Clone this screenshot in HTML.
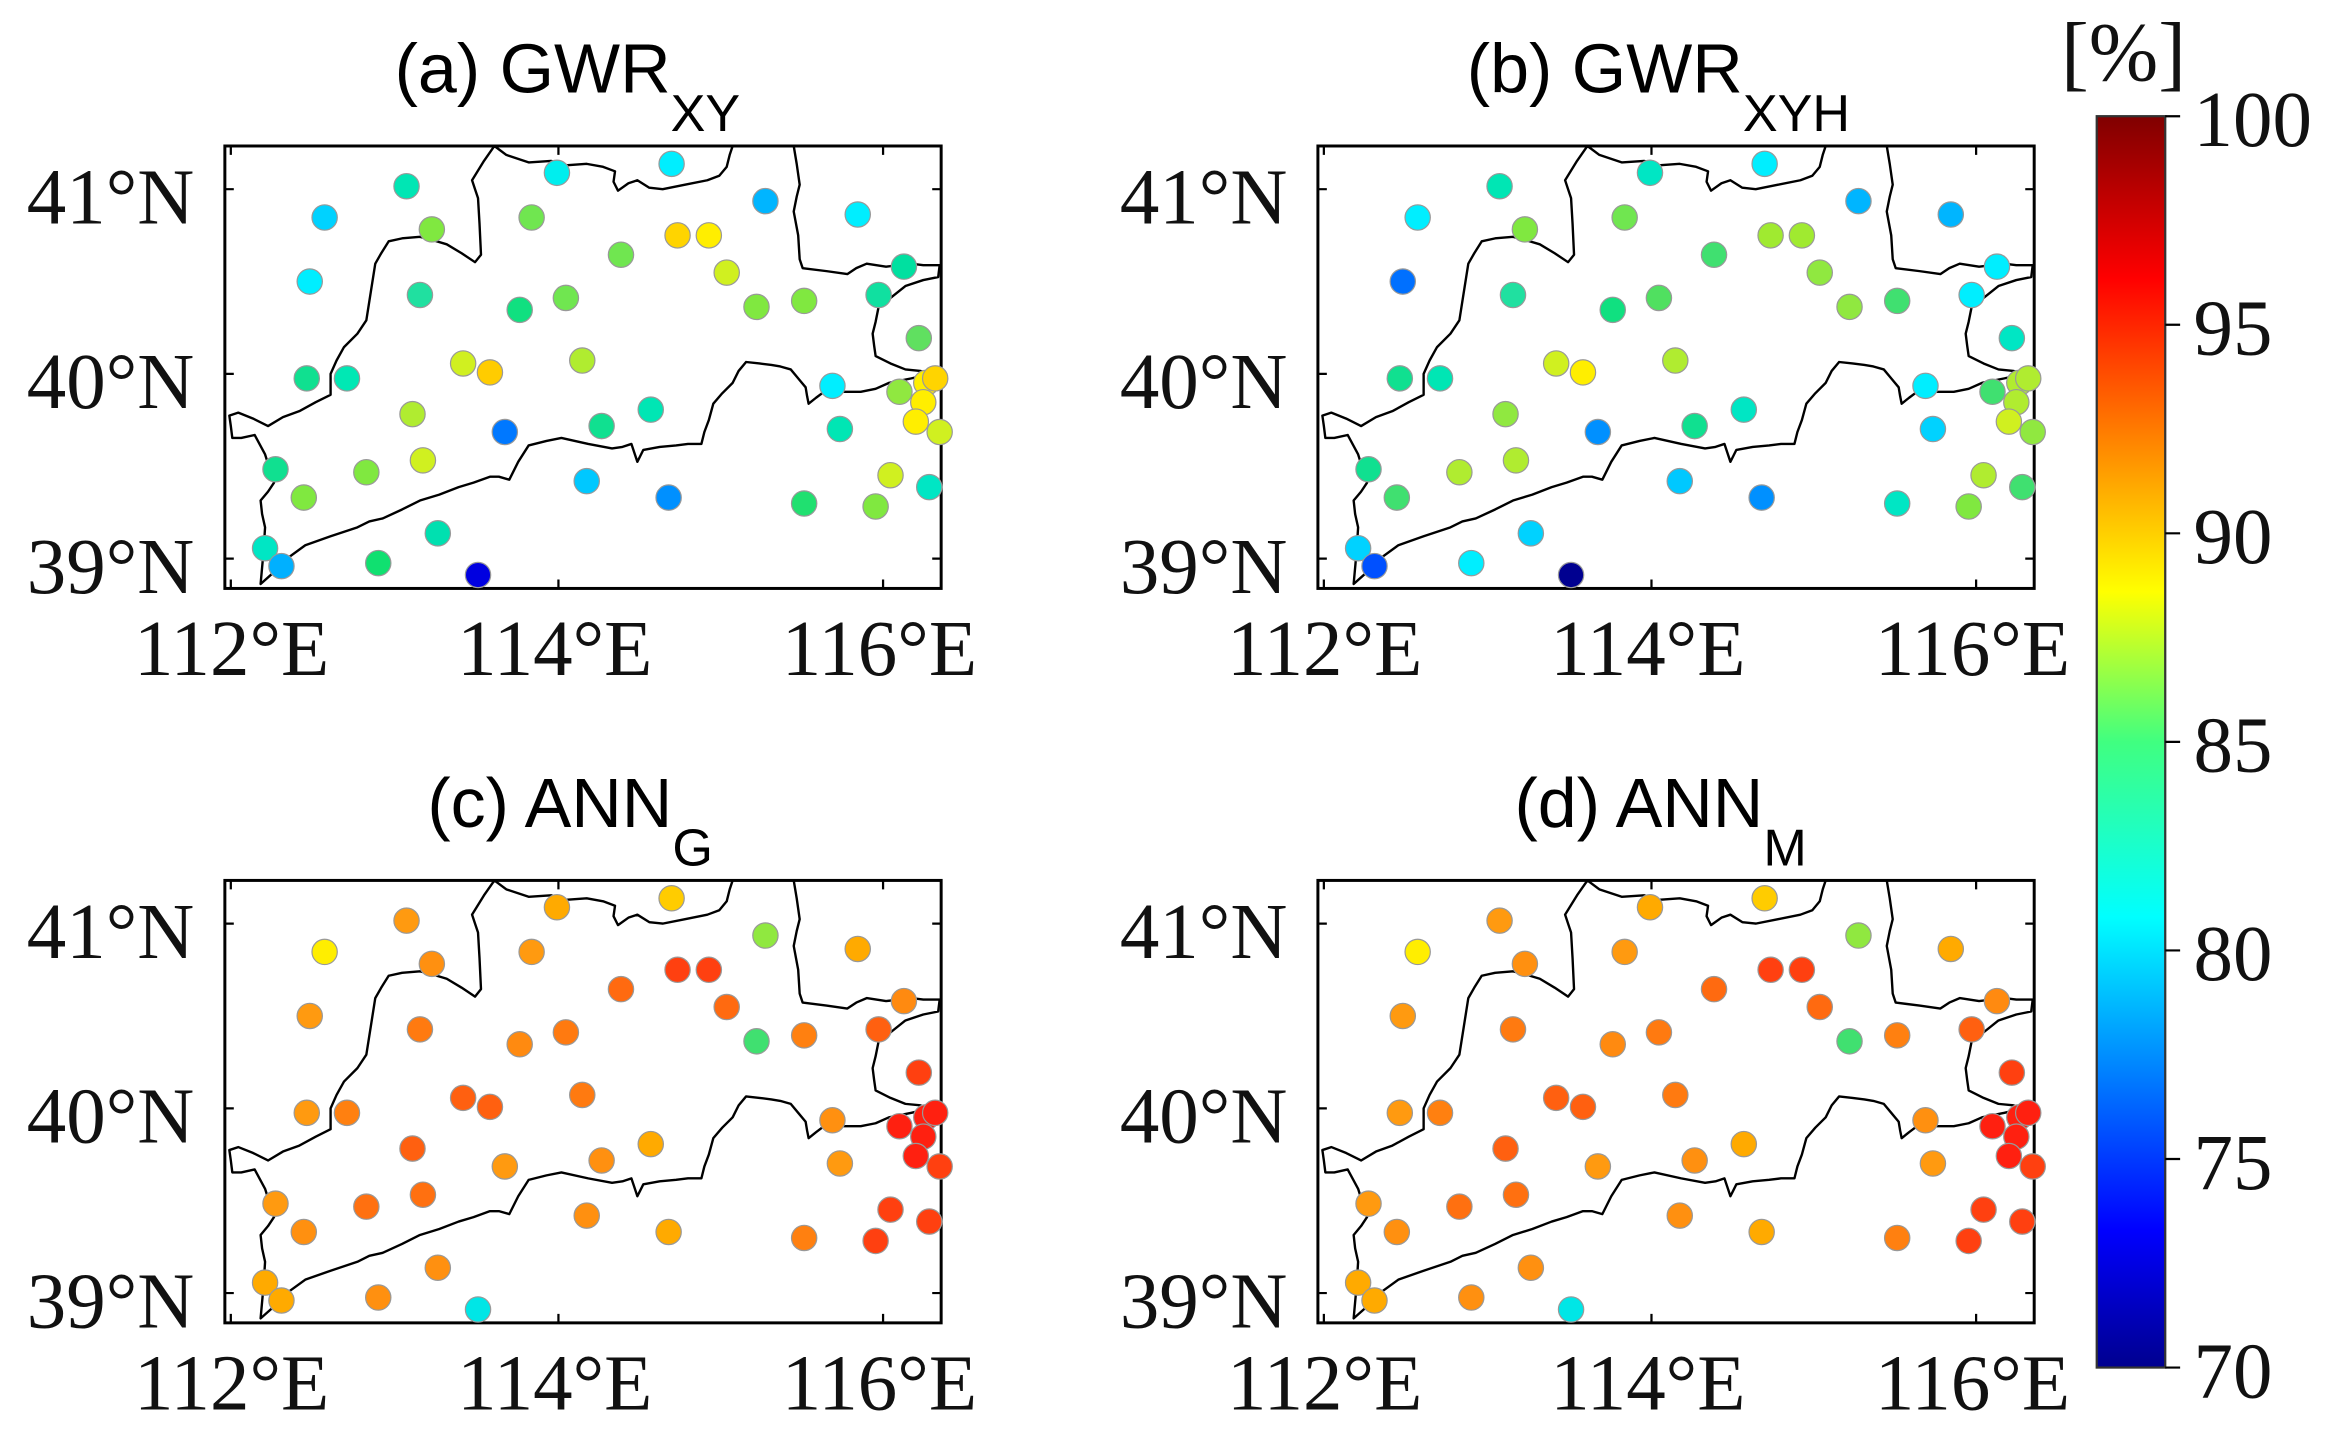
<!DOCTYPE html>
<html><head><meta charset="utf-8"><style>html,body{margin:0;padding:0;background:#fff}svg{display:block}</style></head><body>
<svg width="2335" height="1448" viewBox="0 0 1568 972" preserveAspectRatio="none" xmlns="http://www.w3.org/2000/svg">
<defs>
<linearGradient id="jet" x1="0" y1="1" x2="0" y2="0">
<stop offset="0" stop-color="#00008f"/><stop offset="0.11" stop-color="#0000ff"/><stop offset="0.36" stop-color="#00ffff"/><stop offset="0.5" stop-color="#40ff80"/><stop offset="0.62" stop-color="#ffff00"/><stop offset="0.87" stop-color="#ff0000"/><stop offset="1" stop-color="#800000"/>
</linearGradient>
<g id="frame">
<rect x="151" y="98" width="481" height="297" fill="none" stroke="#000" stroke-width="2"/>
<path d="M155 395v-6M375 395v-6M593 395v-6M155 98v6M375 98v6M593 98v6M151 127h6M151 251h6M151 375h6M632 127h-6M632 251h-6M632 375h-6" stroke="#000" stroke-width="1.5"/>
<polygon fill="none" stroke="#000" stroke-width="1.6" stroke-linejoin="round" points="332,98 340,104 355,109 370,108 380,111 394,110 405,112 413,115 412,122 415,128 422,123 428,121 436,126 445,127 460,124 475,121 483,118 488,112 490,104 492,98 533,98 535,110 537,124 535,132 533,142 536,158 537,174 539,180 555,182 569,184 575,180 582,177 595,179 612,177 620,178 631,178 630,186 620,188 608,192 598,200 590,206 588,216 586,224 587,232 588,239 598,244 608,248 618,249 625,251 612,254 597,257 588,261 578,263 565,263 552,264 548,267 543,271 542,266 541,260 536,254 531,248 524,246 518,245 510,244 501,243 496,249 492,257 485,264 479,271 476,282 473,290 471,298 462,298 454,299 443,300 432,302 430,306 428,310 426,304 424,298 418,300 411,301 395,298 377,294 367,296 355,299 348,310 342,322 335,320 329,320 318,324 308,327 295,332 282,336 270,342 257,348 248,350 240,354 222,360 205,366 194,374 184,384 175,392 177,370 178,354 176,345 175,336 180,330 184,324 178,305 171,292 162,294 156,294 155,286 154,279 160,277 170,281 180,286 190,280 201,276 212,270 222,265 222,258 222,251 226,242 231,233 240,224 246,215 249,196 252,177 256,170 261,162 270,160 282,159 290,161 300,164 310,170 319,176 323,171 322,150 321,133 319,127 317,121 325,108"/>
</g>
</defs>
<style>
.t{font-family:"Liberation Serif",serif;font-size:53px;fill:#111}
.h{font-family:"Liberation Sans",sans-serif;font-size:47px;fill:#000}
.s{font-size:35px}
circle{stroke:#999;stroke-width:0.8}
</style>

<use href="#frame"/>
<use href="#frame" transform="translate(734,0)"/>
<use href="#frame" transform="translate(0,493)"/>
<use href="#frame" transform="translate(734,493)"/>

<g class="t">
<text x="18" y="150">41°N</text><text x="18" y="274">40°N</text><text x="18" y="398">39°N</text>
<text x="90" y="453">112°E</text><text x="307" y="453">114°E</text><text x="525" y="453">116°E</text>
<text x="752" y="150">41°N</text><text x="752" y="274">40°N</text><text x="752" y="398">39°N</text>
<text x="824" y="453">112°E</text><text x="1041" y="453">114°E</text><text x="1259" y="453">116°E</text>
<text x="18" y="643">41°N</text><text x="18" y="767">40°N</text><text x="18" y="891">39°N</text>
<text x="90" y="946">112°E</text><text x="307" y="946">114°E</text><text x="525" y="946">116°E</text>
<text x="752" y="643">41°N</text><text x="752" y="767">40°N</text><text x="752" y="891">39°N</text>
<text x="824" y="946">112°E</text><text x="1041" y="946">114°E</text><text x="1259" y="946">116°E</text>
</g>

<g class="h">
<text x="265" y="62">(a) GWR<tspan class="s" dy="26">XY</tspan></text>
<text x="985" y="62">(b) GWR<tspan class="s" dy="26">XYH</tspan></text>
<text x="287" y="555">(c) ANN<tspan class="s" dy="26">G</tspan></text>
<text x="1017" y="555">(d) ANN<tspan class="s" dy="26">M</tspan></text>
</g>

<g>
<circle cx="218" cy="146" r="8.5" fill="#00d2ff"/><circle cx="273" cy="125" r="8.5" fill="#00e6b4"/><circle cx="208" cy="189" r="8.5" fill="#00eeff"/><circle cx="290" cy="154" r="8.5" fill="#80e840"/><circle cx="357" cy="146" r="8.5" fill="#70e650"/><circle cx="374" cy="116" r="8.5" fill="#00eeee"/><circle cx="451" cy="110" r="8.5" fill="#00eeff"/><circle cx="514" cy="135" r="8.5" fill="#00b5ff"/><circle cx="576" cy="144" r="8.5" fill="#00eeff"/><circle cx="455" cy="158" r="8.5" fill="#ffd400"/><circle cx="476" cy="158" r="8.5" fill="#ffee00"/><circle cx="417" cy="171" r="8.5" fill="#70e650"/><circle cx="282" cy="198" r="8.5" fill="#20e0a0"/><circle cx="349" cy="208" r="8.5" fill="#10e080"/><circle cx="380" cy="200" r="8.5" fill="#70e650"/><circle cx="488" cy="183" r="8.5" fill="#d0f020"/><circle cx="508" cy="206" r="8.5" fill="#80e840"/><circle cx="540" cy="202" r="8.5" fill="#80e840"/><circle cx="607" cy="179" r="8.5" fill="#00e0a0"/><circle cx="590" cy="198" r="8.5" fill="#10e0a0"/><circle cx="617" cy="227" r="8.5" fill="#60e060"/><circle cx="206" cy="254" r="8.5" fill="#10e090"/><circle cx="233" cy="254" r="8.5" fill="#00e8b4"/><circle cx="311" cy="244" r="8.5" fill="#d0f020"/><circle cx="329" cy="250" r="8.5" fill="#ffcc00"/><circle cx="391" cy="242" r="8.5" fill="#b0ec30"/><circle cx="559" cy="259" r="8.5" fill="#00eeff"/><circle cx="604" cy="263" r="8.5" fill="#90e840"/><circle cx="622" cy="257" r="8.5" fill="#ffee00"/><circle cx="628" cy="254" r="8.5" fill="#ffd400"/><circle cx="620" cy="270" r="8.5" fill="#ffee00"/><circle cx="615" cy="283" r="8.5" fill="#ffee00"/><circle cx="631" cy="290" r="8.5" fill="#d0f020"/><circle cx="277" cy="278" r="8.5" fill="#b0ec30"/><circle cx="339" cy="290" r="8.5" fill="#0078ff"/><circle cx="404" cy="286" r="8.5" fill="#10e090"/><circle cx="437" cy="275" r="8.5" fill="#00e6b4"/><circle cx="564" cy="288" r="8.5" fill="#00e6b4"/><circle cx="185" cy="315" r="8.5" fill="#10e090"/><circle cx="246" cy="317" r="8.5" fill="#80e840"/><circle cx="284" cy="309" r="8.5" fill="#d0f020"/><circle cx="204" cy="334" r="8.5" fill="#80e840"/><circle cx="394" cy="323" r="8.5" fill="#00c8ff"/><circle cx="449" cy="334" r="8.5" fill="#0090ff"/><circle cx="540" cy="338" r="8.5" fill="#20e070"/><circle cx="588" cy="340" r="8.5" fill="#80e840"/><circle cx="598" cy="319" r="8.5" fill="#d0f020"/><circle cx="624" cy="327" r="8.5" fill="#00e6c4"/><circle cx="178" cy="368" r="8.5" fill="#00e6c4"/><circle cx="189" cy="380" r="8.5" fill="#00b0ff"/><circle cx="254" cy="378" r="8.5" fill="#10e070"/><circle cx="294" cy="358" r="8.5" fill="#00e0b0"/><circle cx="321" cy="386" r="8.5" fill="#0000e0"/>
</g>
<g transform="translate(734,0)">
<circle cx="218" cy="146" r="8.5" fill="#00eeff"/><circle cx="273" cy="125" r="8.5" fill="#00e6b4"/><circle cx="208" cy="189" r="8.5" fill="#0070ff"/><circle cx="290" cy="154" r="8.5" fill="#80e840"/><circle cx="357" cy="146" r="8.5" fill="#70e650"/><circle cx="374" cy="116" r="8.5" fill="#00e6c4"/><circle cx="451" cy="110" r="8.5" fill="#00eeff"/><circle cx="514" cy="135" r="8.5" fill="#00b5ff"/><circle cx="576" cy="144" r="8.5" fill="#00b5ff"/><circle cx="455" cy="158" r="8.5" fill="#a0ea30"/><circle cx="476" cy="158" r="8.5" fill="#a0ea30"/><circle cx="417" cy="171" r="8.5" fill="#40e070"/><circle cx="282" cy="198" r="8.5" fill="#20e0a0"/><circle cx="349" cy="208" r="8.5" fill="#10e080"/><circle cx="380" cy="200" r="8.5" fill="#50e060"/><circle cx="488" cy="183" r="8.5" fill="#90e840"/><circle cx="508" cy="206" r="8.5" fill="#90e840"/><circle cx="540" cy="202" r="8.5" fill="#40e070"/><circle cx="607" cy="179" r="8.5" fill="#00eeff"/><circle cx="590" cy="198" r="8.5" fill="#00eeff"/><circle cx="617" cy="227" r="8.5" fill="#00e6c4"/><circle cx="206" cy="254" r="8.5" fill="#10e090"/><circle cx="233" cy="254" r="8.5" fill="#00e6b4"/><circle cx="311" cy="244" r="8.5" fill="#d0f020"/><circle cx="329" cy="250" r="8.5" fill="#ffee00"/><circle cx="391" cy="242" r="8.5" fill="#b0ec30"/><circle cx="559" cy="259" r="8.5" fill="#00eeff"/><circle cx="604" cy="263" r="8.5" fill="#40e070"/><circle cx="622" cy="257" r="8.5" fill="#b0ec30"/><circle cx="628" cy="254" r="8.5" fill="#b0ec30"/><circle cx="620" cy="270" r="8.5" fill="#b0ec30"/><circle cx="615" cy="283" r="8.5" fill="#d0f020"/><circle cx="631" cy="290" r="8.5" fill="#90e840"/><circle cx="277" cy="278" r="8.5" fill="#90e840"/><circle cx="339" cy="290" r="8.5" fill="#0090ff"/><circle cx="404" cy="286" r="8.5" fill="#10e090"/><circle cx="437" cy="275" r="8.5" fill="#00e6c4"/><circle cx="564" cy="288" r="8.5" fill="#00d2ff"/><circle cx="185" cy="315" r="8.5" fill="#10e090"/><circle cx="246" cy="317" r="8.5" fill="#b0ec30"/><circle cx="284" cy="309" r="8.5" fill="#b0ec30"/><circle cx="204" cy="334" r="8.5" fill="#40e070"/><circle cx="394" cy="323" r="8.5" fill="#00c8ff"/><circle cx="449" cy="334" r="8.5" fill="#0090ff"/><circle cx="540" cy="338" r="8.5" fill="#00e6c4"/><circle cx="588" cy="340" r="8.5" fill="#80e840"/><circle cx="598" cy="319" r="8.5" fill="#b0ec30"/><circle cx="624" cy="327" r="8.5" fill="#40e070"/><circle cx="178" cy="368" r="8.5" fill="#00d2ff"/><circle cx="189" cy="380" r="8.5" fill="#0050ff"/><circle cx="254" cy="378" r="8.5" fill="#00eeff"/><circle cx="294" cy="358" r="8.5" fill="#00d2ff"/><circle cx="321" cy="386" r="8.5" fill="#000090"/>
</g>
<g id="pc" transform="translate(0,493)">
<circle cx="218" cy="146" r="8.5" fill="#ffee00"/><circle cx="273" cy="125" r="8.5" fill="#ff9a10"/><circle cx="208" cy="189" r="8.5" fill="#ff9a10"/><circle cx="290" cy="154" r="8.5" fill="#ff9010"/><circle cx="357" cy="146" r="8.5" fill="#ff9a10"/><circle cx="374" cy="116" r="8.5" fill="#ffaa00"/><circle cx="451" cy="110" r="8.5" fill="#ffcc00"/><circle cx="514" cy="135" r="8.5" fill="#90e840"/><circle cx="576" cy="144" r="8.5" fill="#ffaa00"/><circle cx="455" cy="158" r="8.5" fill="#ff4010"/><circle cx="476" cy="158" r="8.5" fill="#ff4010"/><circle cx="417" cy="171" r="8.5" fill="#ff6a10"/><circle cx="282" cy="198" r="8.5" fill="#ff7a10"/><circle cx="349" cy="208" r="8.5" fill="#ff8a10"/><circle cx="380" cy="200" r="8.5" fill="#ff7a10"/><circle cx="488" cy="183" r="8.5" fill="#ff6a10"/><circle cx="508" cy="206" r="8.5" fill="#40e070"/><circle cx="540" cy="202" r="8.5" fill="#ff8010"/><circle cx="607" cy="179" r="8.5" fill="#ff8a10"/><circle cx="590" cy="198" r="8.5" fill="#ff6010"/><circle cx="617" cy="227" r="8.5" fill="#ff4010"/><circle cx="206" cy="254" r="8.5" fill="#ff9a10"/><circle cx="233" cy="254" r="8.5" fill="#ff8010"/><circle cx="311" cy="244" r="8.5" fill="#ff6010"/><circle cx="329" cy="250" r="8.5" fill="#ff6010"/><circle cx="391" cy="242" r="8.5" fill="#ff7a10"/><circle cx="559" cy="259" r="8.5" fill="#ff9010"/><circle cx="604" cy="263" r="8.5" fill="#ff2010"/><circle cx="622" cy="257" r="8.5" fill="#ff2010"/><circle cx="628" cy="254" r="8.5" fill="#ff2010"/><circle cx="620" cy="270" r="8.5" fill="#ff2010"/><circle cx="615" cy="283" r="8.5" fill="#ff2010"/><circle cx="631" cy="290" r="8.5" fill="#ff4010"/><circle cx="277" cy="278" r="8.5" fill="#ff6010"/><circle cx="339" cy="290" r="8.5" fill="#ff9a10"/><circle cx="404" cy="286" r="8.5" fill="#ff9010"/><circle cx="437" cy="275" r="8.5" fill="#ffaa00"/><circle cx="564" cy="288" r="8.5" fill="#ff9a10"/><circle cx="185" cy="315" r="8.5" fill="#ff9a10"/><circle cx="246" cy="317" r="8.5" fill="#ff7010"/><circle cx="284" cy="309" r="8.5" fill="#ff7010"/><circle cx="204" cy="334" r="8.5" fill="#ff9010"/><circle cx="394" cy="323" r="8.5" fill="#ff9010"/><circle cx="449" cy="334" r="8.5" fill="#ffaa00"/><circle cx="540" cy="338" r="8.5" fill="#ff8010"/><circle cx="588" cy="340" r="8.5" fill="#ff4010"/><circle cx="598" cy="319" r="8.5" fill="#ff4010"/><circle cx="624" cy="327" r="8.5" fill="#ff4010"/><circle cx="178" cy="368" r="8.5" fill="#ffaa00"/><circle cx="189" cy="380" r="8.5" fill="#ffaa00"/><circle cx="254" cy="378" r="8.5" fill="#ff9010"/><circle cx="294" cy="358" r="8.5" fill="#ff9010"/><circle cx="321" cy="386" r="8.5" fill="#00e6e6"/>
</g>
<use href="#pc" transform="translate(734,0)"/>

<rect x="1408" y="78" width="46" height="840" fill="url(#jet)" stroke="#333" stroke-width="1.5"/>
<path d="M1454 78h10M1454 218h10M1454 358h10M1454 498h10M1454 638h10M1454 778h10M1454 918h10" stroke="#000" stroke-width="1.5"/>
<g class="t">
<text x="1384" y="54" style="font-size:56px">[%]</text>
<text x="1473" y="98">100</text><text x="1473" y="238">95</text><text x="1473" y="378">90</text><text x="1473" y="518">85</text><text x="1473" y="658">80</text><text x="1473" y="798">75</text><text x="1473" y="938">70</text>
</g>
</svg>
</body></html>
